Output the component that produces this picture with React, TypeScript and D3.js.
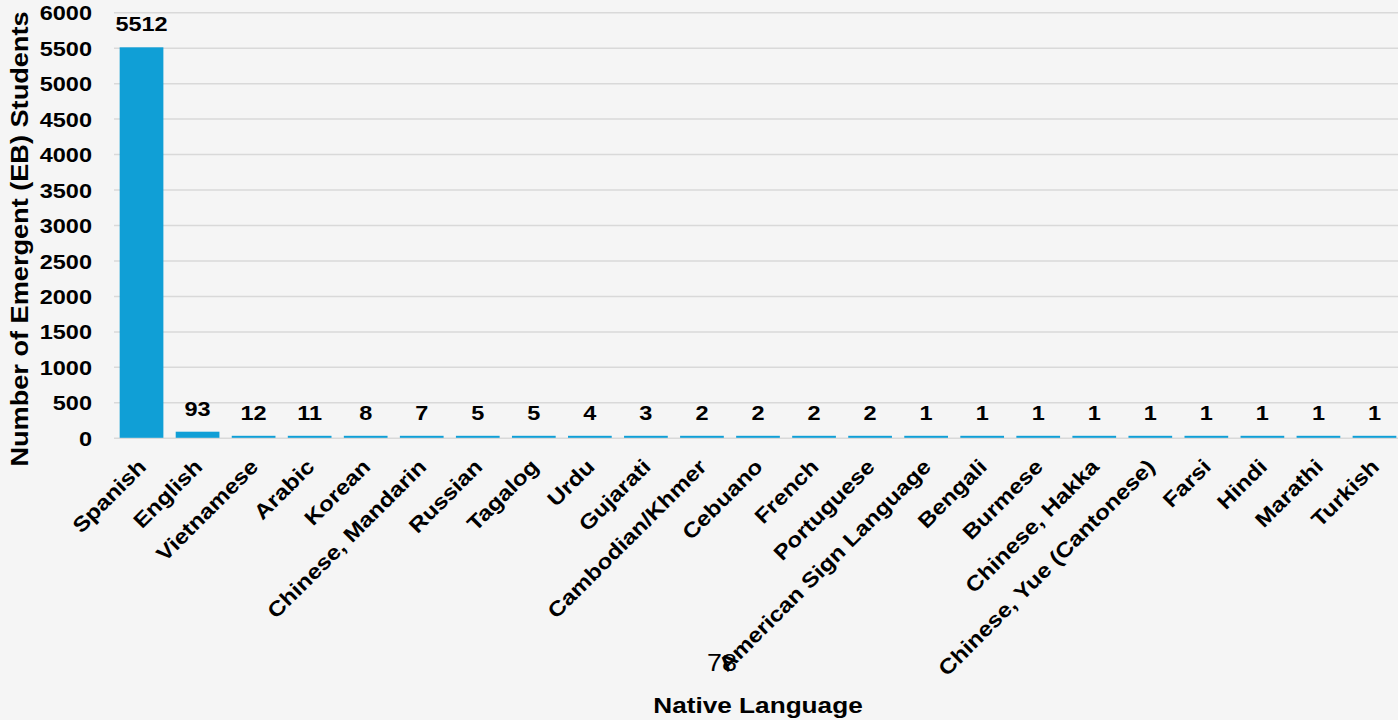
import React from "react";
import * as d3 from "d3";

const categories = [
  "Spanish", "English", "Vietnamese", "Arabic", "Korean", "Chinese, Mandarin",
  "Russian", "Tagalog", "Urdu", "Gujarati", "Cambodian/Khmer", "Cebuano",
  "French", "Portuguese", "American Sign Language", "Bengali", "Burmese",
  "Chinese, Hakka", "Chinese, Yue (Cantonese)", "Farsi", "Hindi", "Marathi", "Turkish",
];
const values = [5512, 93, 12, 11, 8, 7, 5, 5, 4, 3, 2, 2, 2, 2, 1, 1, 1, 1, 1, 1, 1, 1, 1];
const yTicks = [0, 500, 1000, 1500, 2000, 2500, 3000, 3500, 4000, 4500, 5000, 5500, 6000];
const yTitle = "Number of Emergent (EB) Students";
const xTitle = "Native Language";
const strayNote = "78";

const W = 1398;
const H = 720;
const FONT = "'Liberation Sans', Arial, sans-serif";
const SX = 1.12;

export default function App() {
  const x = d3
    .scaleBand<string>()
    .domain(categories)
    .range([113.5, 1402.5])
    .paddingInner(0.22)
    .paddingOuter(0.11);
  const y = d3.scaleLinear().domain([0, 6000]).range([438.3, 12.7]);
  const y0 = y(0);

  return (
    <svg
      width={W}
      height={H}
      style={{ position: "absolute", left: 0, top: 0 }}
      fontFamily={FONT}
    >
      <rect x={0} y={0} width={W} height={H} fill="#f5f5f5" />
      {yTicks.map((t) => (
        <g key={t}>
          <line x1={114} x2={W} y1={y(t)} y2={y(t)} stroke="#d9d9d9" strokeWidth={1.5} />
          <text
            transform={`translate(92,${y(t)}) scale(${SX},1)`}
            dy="0.36em"
            textAnchor="end"
            fontSize={21}
            fontWeight="bold"
            fill="#000"
          >
            {t}
          </text>
        </g>
      ))}
      {categories.map((c, i) => {
        const v = values[i];
        const top = Math.min(y(v), y0 - 2.5);
        const cx = (x(c) as number) + x.bandwidth() / 2;
        return (
          <g key={c}>
            <rect x={x(c)} y={top} width={x.bandwidth()} height={y0 - 0.5 - top} fill="#109fd6" />
            <text
              transform={`translate(${cx},${top - 16}) scale(${SX},1)`}
              textAnchor="middle"
              fontSize={21}
              fontWeight="bold"
              fill="#000"
            >
              {v}
            </text>
            <text
              transform={`translate(${cx + 6},${468}) rotate(-45) scale(1.15,1)`}
              textAnchor="end"
              fontSize={21}
              fontWeight="bold"
              fill="#000"
            >
              {c}
            </text>
          </g>
        );
      })}
      <text
        transform={`translate(28,239) rotate(-90) scale(1.18,1)`}
        textAnchor="middle"
        fontSize={23}
        fontWeight="bold"
        fill="#000"
      >
        {yTitle}
      </text>
      <text
        transform={`translate(758,713) scale(1.19,1)`}
        textAnchor="middle"
        fontSize={22}
        fontWeight="bold"
        fill="#000"
      >
        {xTitle}
      </text>
      <text
        transform={`translate(722,671) scale(1.12,1)`}
        textAnchor="middle"
        fontSize={24}
        fill="#000"
      >
        {strayNote}
      </text>
    </svg>
  );
}
